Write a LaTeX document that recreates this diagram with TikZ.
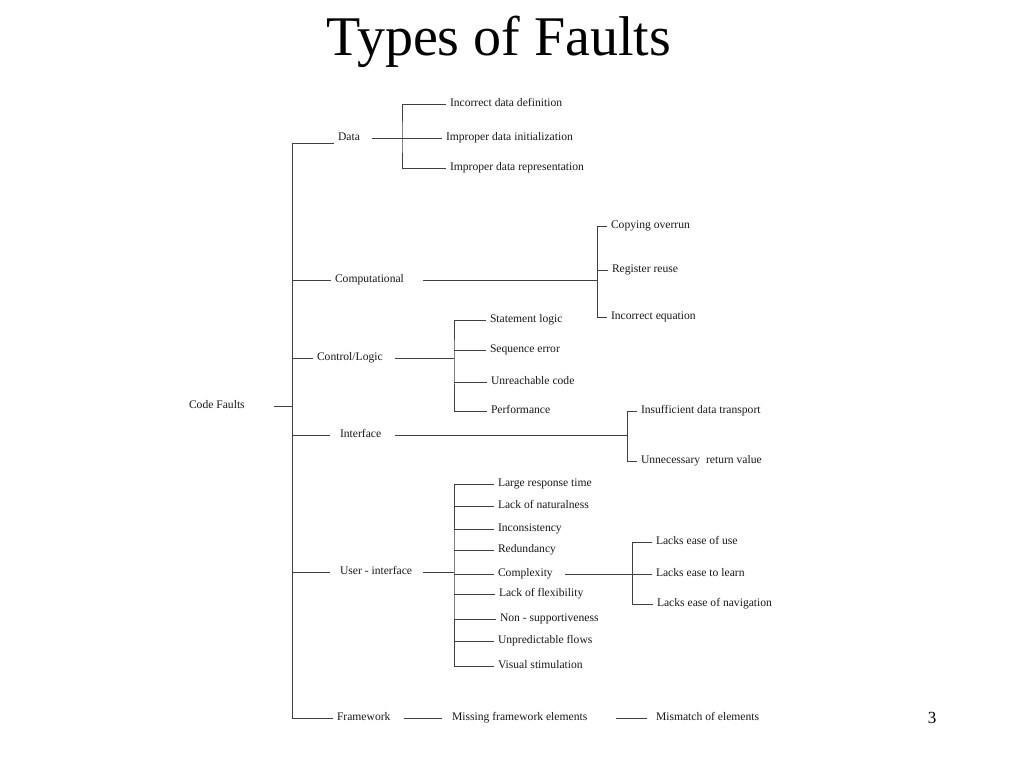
\documentclass[tikz,border=0pt]{standalone}
\usepackage{fontspec}
\setmainfont{Liberation Serif}
\begin{document}
\begin{tikzpicture}[x=1pt,y=-1pt,
  lab/.style={anchor=west, inner sep=0pt, outer sep=4pt, text height=8pt, text depth=2.6pt, text=black!90, font=\fontsize{11.6}{13}\selectfont},
  ln/.style={draw=black!75, line width=1pt}]
\useasboundingbox[fill=white] (0,0) rectangle (1024,768);
\node[inner sep=0pt, font=\fontsize{56}{60}\selectfont] (title) at (499,42) {Types of Faults};
\node[inner sep=0pt, font=\fontsize{17}{20}\selectfont] (pg) at (932,718) {3};
% level 0 and 1
\node[lab] (cf) at (185,406) {Code Faults};
\node[lab] (data) at (334,138) {Data};
\node[lab] (comp) at (331,280) {Computational};
\node[lab] (ctrl) at (313,358) {Control/Logic};
\node[lab] (intf) at (336,435) {Interface};
\node[lab] (ui) at (336,572) {User - interface};
\node[lab] (fw) at (333,718) {Framework};
% data
\node[lab] (d1) at (446,104) {Incorrect data definition};
\node[lab] (d2) at (442,138) {Improper data initialization};
\node[lab] (d3) at (446,168) {Improper data representation};
% computational
\node[lab] (c1) at (607,226) {Copying overrun};
\node[lab] (c2) at (608,270) {Register reuse};
\node[lab] (c3) at (607,317) {Incorrect equation};
% control
\node[lab] (l1) at (486,320) {Statement logic};
\node[lab] (l2) at (486,350) {Sequence error};
\node[lab] (l3) at (487,382) {Unreachable code};
\node[lab] (l4) at (487,411) {Performance};
% interface
\node[lab] (i1) at (637,411) {Insufficient data transport};
\node[lab] (i2) at (637,461) {Unnecessary\ \ return value};
% user interface
\node[lab] (u1) at (494,484) {Large response time};
\node[lab] (u2) at (494,506) {Lack of naturalness};
\node[lab] (u3) at (494,529) {Inconsistency};
\node[lab] (u4) at (494,550) {Redundancy};
\node[lab] (u5) at (494,574) {Complexity};
\node[lab] (u6) at (495,594) {Lack of flexibility};
\node[lab] (u7) at (496,619) {Non - supportiveness};
\node[lab] (u8) at (494,641) {Unpredictable flows};
\node[lab] (u9) at (494,666) {Visual stimulation};
% complexity
\node[lab] (x1) at (652,542) {Lacks ease of use};
\node[lab] (x2) at (652,574) {Lacks ease to learn};
\node[lab] (x3) at (653,604) {Lacks ease of navigation};
% framework
\node[lab] (m1) at (448,718) {Missing framework elements};
\node[lab] (m2) at (652,718) {Mismatch of elements};
% junctions
\coordinate (tD) at (292,143);
\coordinate (tF) at (292,718);
\coordinate (jData) at (402,138);
\coordinate (jComp) at (597,280);
\coordinate (jCtrl) at (454,358);
\coordinate (jIntf) at (627,435);
\coordinate (jUI) at (454,572);
\coordinate (jCx) at (632,574);
% trunk
\draw[ln] (tD) -- (tF);
\draw[ln] ([xshift=25pt]cf.east) -- (cf.east -| tD);
\draw[ln] (tD) -- (tD -| data.west);
\draw[ln] (comp.west -| tD) -- (comp.west);
\draw[ln] (ctrl.west -| tD) -- (ctrl.west);
\draw[ln] (intf.west -| tD) -- ([xshift=-6pt]intf.west);
\draw[ln] (ui.west -| tD) -- ([xshift=-6pt]ui.west);
\draw[ln] (tF) -- (fw.west);
% data
\draw[ln] ([xshift=8pt]data.east) -- (d2.west);
\draw[ln] (d1.west) -| (jData) |- (d3.west);
% computational
\draw[ln] ([xshift=15pt]comp.east) -- (jComp);
\draw[ln] (c1.west) -| (jComp) |- (c3.west);
\draw[ln] (c2.west) -- (c2.west -| jComp);
% control
\draw[ln] ([xshift=8pt]ctrl.east) -- (jCtrl);
\draw[ln] (l1.west) -| (jCtrl) |- (l4.west);
\draw[ln] (l2.west) -- (l2.west -| jCtrl);
\draw[ln] (l3.west) -- (l3.west -| jCtrl);
% interface
\draw[ln] ([xshift=10pt]intf.east) -- (jIntf);
\draw[ln] (i1.west) -| (jIntf) |- (i2.west);
% user interface
\draw[ln] ([xshift=7pt]ui.east) -- (jUI);
\draw[ln] (u1.west) -| (jUI) |- (u9.west);
\foreach \n in {u2,u3,u4,u5,u6,u7,u8} \draw[ln] (\n.west) -- (\n.west -| jUI);
% complexity
\draw[ln] ([xshift=8pt]u5.east) -- (x2.west);
\draw[ln] (x1.west) -| (jCx) |- (x3.west);
% framework
\draw[ln] ([xshift=10pt]fw.east) -- ([xshift=-6pt]m1.west);
\draw[ln] ([xshift=25pt]m1.east) -- ([xshift=-5pt]m2.west);
\end{tikzpicture}
\end{document}
